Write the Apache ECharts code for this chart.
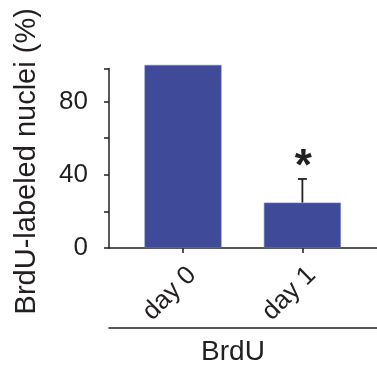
<!DOCTYPE html>
<html><head><meta charset="utf-8">
<script src="https://cdn.jsdelivr.net/npm/echarts@6/dist/echarts.min.js"></script>
<style>html,body{margin:0;padding:0;background:#fff}#c{width:377px;height:367px}</style>
</head><body><div id="c"></div>
<script>
var categories = ['day 0', 'day 1'];
var values = [100, 24.8];
var errUpper = [null, 37.7];
var significance = ['', '*'];
var yTickLabels = [0, 40, 80];
var groupTitle = 'BrdU';
var yTitle = 'BrdU-labeled nuclei (%)';

var FONT = 'Liberation Sans, Arial, sans-serif';
var AX = '#231f20';
var chart = echarts.init(document.getElementById('c'), null, {renderer: 'canvas'});
var xMin = -0.62, xMax = 1.625;
var barData = values.map(function (v, i) { return [i, v]; });
var errData = [];
values.forEach(function (v, i) { if (errUpper[i] != null) errData.push([i, v, errUpper[i], significance[i]]); });

chart.setOption({
  animation: false,
  grid: {left: 109, right: 0, top: 68.6, bottom: 118, containLabel: false},
  xAxis: [{
    type: 'value', min: xMin, max: xMax, position: 'bottom',
    axisLine: {show: true, onZero: false, lineStyle: {color: AX, width: 1.5}},
    axisTick: {show: true, inside: false, length: 5, lineStyle: {color: AX, width: 1.5}, customValues: [0, 1]},
    splitLine: {show: false},
    axisLabel: {customValues: [0, 1], rotate: 45, margin: 14, align: 'right', verticalAlign: 'top', fontSize: 26, fontFamily: FONT, color: AX,
      formatter: function (v) { return categories[Math.round(v)]; }}
  }, {
    type: 'value', min: xMin, max: xMax, position: 'bottom', offset: 80,
    axisLine: {show: true, onZero: false, lineStyle: {color: AX, width: 1.5}},
    axisTick: {show: false}, axisLabel: {show: false}, splitLine: {show: false},
    name: groupTitle, nameLocation: 'middle', nameGap: 10,
    nameTextStyle: {fontSize: 28, fontFamily: FONT, color: AX, padding: [0, 20, 0, 0]}
  }],
  yAxis: {
    type: 'value', min: 0, max: 98, interval: 20,
    axisLine: {show: true, onZero: false, lineStyle: {color: AX, width: 1.5}},
    axisTick: {show: true, inside: false, length: 5, lineStyle: {color: AX, width: 1.5}},
    splitLine: {show: false},
    axisLabel: {margin: 21, fontSize: 26, fontFamily: FONT, color: AX,
      formatter: function (v) { return yTickLabels.indexOf(v) >= 0 ? String(v) : ''; }},
    name: yTitle, nameLocation: 'middle', nameGap: 68,
    nameTextStyle: {fontSize: 29, fontFamily: FONT, color: AX, padding: [0, 6, 0, 0]}
  },
  series: [{
    type: 'bar', data: barData, barWidth: 77, clip: false,
    itemStyle: {color: '#3f4a99', borderColor: '#6f78b8', borderWidth: 0.6}
  }, {
    type: 'custom', data: errData, clip: false, z: 5,
    renderItem: function (params, api) {
      var x = api.value(0);
      var lo = api.coord([x, api.value(1)]);
      var hi = api.coord([x, api.value(2)]);
      var capW = 9;
      return {type: 'group', children: [
        {type: 'line', shape: {x1: lo[0], y1: lo[1], x2: hi[0], y2: hi[1]}, style: {stroke: AX, lineWidth: 1.8}},
        {type: 'line', shape: {x1: hi[0] - capW / 2, y1: hi[1], x2: hi[0] + capW / 2, y2: hi[1]}, style: {stroke: AX, lineWidth: 1.8}},
        {type: 'text', x: hi[0] + 1, y: hi[1] + 11, style: {text: api.value(3), fontSize: 44, fontWeight: 'bold', fontFamily: FONT, fill: AX, align: 'center', verticalAlign: 'bottom'}}
      ]};
    }
  }]
});
</script></body></html>
